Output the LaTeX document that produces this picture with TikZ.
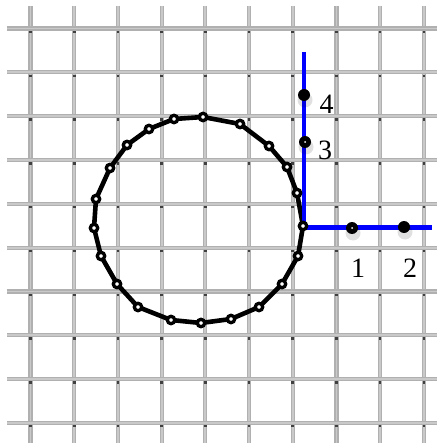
\documentclass[tikz,border=0pt]{standalone}
\usepackage{fontspec}
\setmainfont{Liberation Serif}
\usetikzlibrary{calc}

\tikzset{
  wire/.style={line width=4.2pt, gray!62},
  wirecore/.style={line width=1.8pt, gray!42},
  knot/.style={fill=black!75},
  chainline/.style={line width=4.6pt, line join=round},
  bead/.style={draw=black, line width=3.3pt, fill=white},
  axisline/.style={blue, line width=4.6pt},
  pointdot/.style={fill=black},
  pointshadow/.style={fill=black, opacity=0.12},
  numlabel/.style={font=\fontsize{28}{30}\selectfont, inner sep=0pt}
}

\begin{document}
\begin{tikzpicture}[x=1pt, y=-1pt]
        \def\gapX{43.7} \def\gapY{43.8} \def\startX{30.5} \def\startY{28.6}

        \useasboundingbox (0,0) rectangle (437,443);
        \fill[white] (0,0) rectangle (437,443);

        \foreach \i in {0,...,9} {
            \draw[wire] ({\startX+\gapX*\i}, 6) -- ({\startX+\gapX*\i}, 443);
            \draw[wirecore] ({\startX+\gapX*\i}, 6) -- ({\startX+\gapX*\i}, 443);
        }
        \foreach \j in {0,...,9} {
            \draw[wire] (7, {\startY+\gapY*\j}) -- (437, {\startY+\gapY*\j});
            \draw[wirecore] (7, {\startY+\gapY*\j}) -- (437, {\startY+\gapY*\j});
            \foreach \i in {0,...,9}
                \fill[knot] ({\startX+\gapX*\i-1.3}, {\startY+\gapY*\j+2.2}) rectangle +(2.6,2.4);
        }

        \foreach \x/\y [count=\n] in {203/117, 240/124, 269/146, 287/167, 297/193, 303/226, 298/256,
            282/284, 259/307, 231/319, 201/323, 171/320, 138/307, 117/284, 101/256, 94/228,
            96/199, 110/168, 127/145, 149/129, 174/119}
            \coordinate (b\n) at (\x,\y);

        \draw[chainline] (b1) \foreach \n in {2,...,21} {-- (b\n)} -- cycle;

        \coordinate (O) at (304,227.5);
        \coordinate (Ytop) at (304,52);
        \coordinate (Xend) at (432,227.5);
        \draw[axisline] (Ytop) -- (O) -- (Xend);

        \foreach \n in {1,...,21}
            \draw[bead] (b\n) circle (3.7);

        \coordinate (P1) at (352,228);
        \coordinate (P2) at (404,227);
        \coordinate (P3) at (305,142);
        \coordinate (P4) at (304,95);

        \foreach \p in {P1,P2,P3,P4} {
            \fill[pointshadow] ($(\p)+(1,5)$) circle (7.5);
            \fill[pointdot] (\p) circle (6);
        }
        \fill[white] (P1) circle (1);
        \fill[white] (P3) circle (1);

        \node[numlabel] (l1) at (358,268) {1};
        \node[numlabel] (l2) at (410,268) {2};
        \node[numlabel] (l3) at (325,150) {3};
        \node[numlabel] (l4) at (326.5,104) {4};
    \end{tikzpicture}
\end{document}
